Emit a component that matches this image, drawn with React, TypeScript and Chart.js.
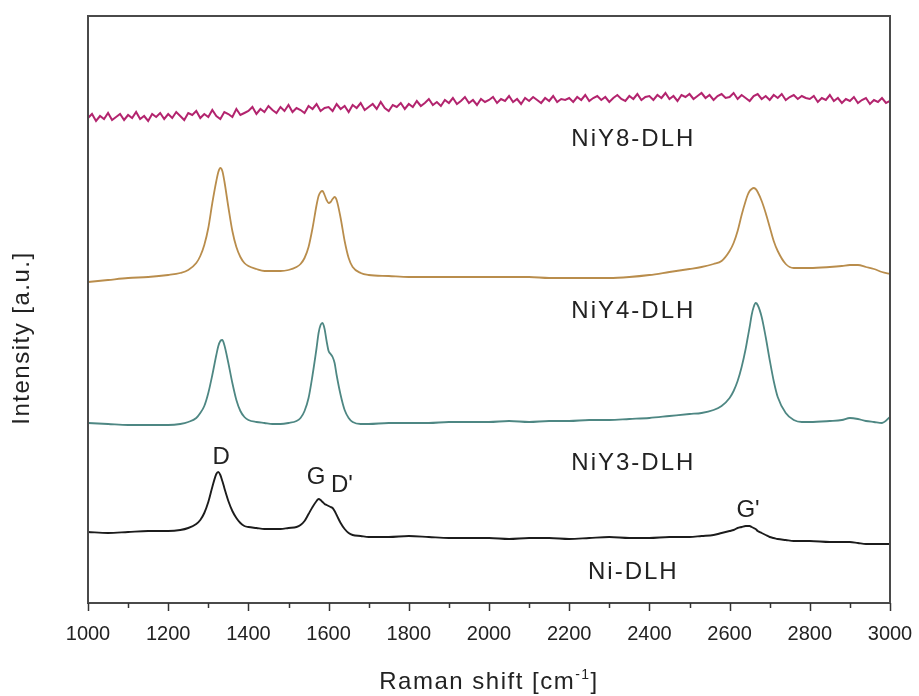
import React, { useEffect, useRef } from 'react';
import { Chart, registerables } from 'chart.js';

Chart.register(...registerables);

// Raman shift grid (cm^-1) shared by the three smooth spectra
const ramanShift = [
  1000, 1050, 1100, 1150, 1200, 1230, 1250, 1270, 1280, 1290,
  1300, 1310, 1320, 1325, 1330, 1335, 1340, 1350, 1360, 1370,
  1380, 1390, 1400, 1420, 1440, 1460, 1480, 1500, 1520, 1530,
  1540, 1550, 1560, 1570, 1575, 1580, 1585, 1590, 1595, 1600,
  1605, 1610, 1615, 1620, 1630, 1640, 1650, 1660, 1680, 1700,
  1750, 1800, 1850, 1900, 1950, 2000, 2050, 2100, 2150, 2200,
  2250, 2300, 2350, 2400, 2450, 2500, 2530, 2560, 2580, 2600,
  2610, 2620, 2630, 2640, 2645, 2650, 2655, 2660, 2665, 2670,
  2680, 2690, 2700, 2710, 2720, 2740, 2760, 2780, 2800, 2850,
  2880, 2900, 2920, 2940, 2960, 2980, 3000,
];

// Intensities (a.u., stacked offsets included)
const niDLH = [
  71, 70, 71, 72, 72, 73, 75, 79, 83, 90,
  101, 116, 129, 131, 128, 122, 115, 102, 92, 85,
  80, 77, 76, 75, 74, 74, 74, 75, 76, 78,
  82, 89, 96, 102, 104, 103, 101, 99, 98, 97,
  96, 95, 92, 88, 80, 74, 70, 68, 67, 66,
  66, 67, 66, 65, 65, 65, 64, 65, 65, 64,
  65, 66, 65, 65, 66, 66, 67, 68, 70, 72,
  73, 75, 76, 77, 77, 77, 76, 75, 74, 72,
  70, 68, 66, 65, 64, 63, 62, 62, 62, 61,
  61, 61, 60, 59, 59, 59, 59,
];

const niY3DLH = [
  180, 179, 178, 178, 178, 179, 181, 185, 190, 197,
  210, 228, 248, 257, 262, 263, 258, 240, 220, 203,
  192, 186, 183, 181, 180, 179, 179, 180, 182, 185,
  192, 205, 228, 255, 270, 278, 280, 274, 262, 252,
  249, 246, 240, 228, 208, 193, 185, 181, 179, 179,
  180, 180, 180, 181, 181, 181, 182, 181, 182, 182,
  183, 183, 184, 185, 187, 189, 190, 193, 197, 205,
  212, 222, 236, 254, 265, 276, 288, 296, 300, 298,
  286, 266, 243, 222, 206, 190, 183, 181, 181, 182,
  183, 185, 184, 182, 181, 180, 186,
];

const niY4DLH = [
  321, 323, 325, 326, 328, 330, 333, 340, 347, 358,
  375, 400, 422, 431, 435, 432, 422, 396, 372, 356,
  346, 340, 337, 334, 332, 332, 332, 333, 336, 339,
  345, 356, 375, 398, 407, 411, 412, 408, 403, 400,
  401, 404, 406, 403, 385, 362, 345, 336, 330, 328,
  327, 326, 326, 326, 326, 326, 326, 326, 325, 325,
  325, 325, 326, 328, 331, 334, 336, 339, 342, 352,
  360, 372, 388, 402, 408, 412, 414, 415, 414, 411,
  402, 390, 376, 362, 352, 339, 335, 335, 335, 336,
  337, 338, 338, 336, 334, 331, 329,
];

// Finer grid for the noisy NiY8-DLH spectrum
const ramanShiftFine = [
  1000, 1010, 1020, 1030, 1040, 1050, 1060, 1070, 1080, 1090, 1100, 1110, 1120, 1130, 1140, 1150, 1160, 1170, 1180, 1190,
  1200, 1210, 1220, 1230, 1240, 1250, 1260, 1270, 1280, 1290, 1300, 1310, 1320, 1330, 1340, 1350, 1360, 1370, 1380, 1390,
  1400, 1410, 1420, 1430, 1440, 1450, 1460, 1470, 1480, 1490, 1500, 1510, 1520, 1530, 1540, 1550, 1560, 1570, 1580, 1590,
  1600, 1610, 1620, 1630, 1640, 1650, 1660, 1670, 1680, 1690, 1700, 1710, 1720, 1730, 1740, 1750, 1760, 1770, 1780, 1790,
  1800, 1810, 1820, 1830, 1840, 1850, 1860, 1870, 1880, 1890, 1900, 1910, 1920, 1930, 1940, 1950, 1960, 1970, 1980, 1990,
  2000, 2010, 2020, 2030, 2040, 2050, 2060, 2070, 2080, 2090, 2100, 2110, 2120, 2130, 2140, 2150, 2160, 2170, 2180, 2190,
  2200, 2210, 2220, 2230, 2240, 2250, 2260, 2270, 2280, 2290, 2300, 2310, 2320, 2330, 2340, 2350, 2360, 2370, 2380, 2390,
  2400, 2410, 2420, 2430, 2440, 2450, 2460, 2470, 2480, 2490, 2500, 2510, 2520, 2530, 2540, 2550, 2560, 2570, 2580, 2590,
  2600, 2610, 2620, 2630, 2640, 2650, 2660, 2670, 2680, 2690, 2700, 2710, 2720, 2730, 2740, 2750, 2760, 2770, 2780, 2790,
  2800, 2810, 2820, 2830, 2840, 2850, 2860, 2870, 2880, 2890, 2900, 2910, 2920, 2930, 2940, 2950, 2960, 2970, 2980, 2990,
  3000,
];

const niY8DLH = [
  485, 489, 482, 487, 484, 490, 483, 486, 489, 483, 488, 485, 491, 484, 487, 482, 489, 486, 490, 484,
  489, 485, 491, 487, 483, 490, 488, 492, 485, 489, 486, 493, 487, 484, 491, 489, 486, 494, 488, 490,
  492, 496, 489, 494, 491, 497, 493, 490, 496, 492, 498, 491, 495, 493, 490, 497, 494, 499, 492, 495,
  496, 492, 499, 494, 497, 491, 498, 495, 500, 493, 496, 499, 494, 501, 495, 492, 498, 496, 500, 494,
  499, 496, 502, 497, 500, 504, 498, 501, 497, 503, 500, 505, 499, 502, 506, 500, 503, 498, 504, 501,
  503, 506, 500, 504, 502, 507, 501, 504, 499, 505, 502, 506, 503, 500, 505, 502, 507, 501, 504, 503,
  505, 501, 506, 503, 508, 502, 505, 507, 503, 506, 501, 505, 508, 504, 502, 507, 504, 509, 503, 506,
  507, 503, 508, 505, 510, 504, 507, 502, 508, 506, 509, 504, 507, 510, 505, 508, 503, 507, 509, 505,
  506, 510, 504, 508, 505, 502, 507, 509, 504, 507, 503, 508, 505, 509, 503, 506, 508, 504, 507, 505,
  504, 507, 501, 505, 503, 508, 502, 505, 500, 504, 502, 506, 500, 503, 505, 499, 503, 501, 505, 500,
  502,
];

const sampleNames = ['Ni-DLH', 'NiY3-DLH', 'NiY4-DLH', 'NiY8-DLH'];
const peakNames = ['D', 'G', "D'", "G'"];

// where the text annotations sit, in data coordinates
const sampleLabelAnchors = [
  [2360, 31], [2360, 140], [2360, 292], [2360, 464],
];
const peakLabelAnchors = [
  [1332, 146], [1569, 126], [1633, 118], [2646, 93],
];

const FONT = '"Liberation Sans", Arial, Helvetica, sans-serif';

const zip = (xs: number[], ys: number[]) => xs.map((x, i) => ({ x, y: ys[i] }));

const decor = {
  id: 'decor',
  afterDraw(chart: any) {
    const { ctx, chartArea: a, scales } = chart;
    const xs = scales.x;
    const ys = scales.y;
    ctx.save();
    // frame
    ctx.strokeStyle = '#4a4a4a';
    ctx.lineWidth = 2;
    ctx.strokeRect(a.left, a.top, a.right - a.left, a.bottom - a.top);
    // x tick marks (major every 200, minor every 100)
    ctx.lineWidth = 1.5;
    ctx.strokeStyle = '#333';
    for (const t of xs.ticks) {
      const px = Math.round(xs.getPixelForValue(t.value)) + 0.5;
      const len = t.value % 200 === 0 ? 8 : 5;
      ctx.beginPath();
      ctx.moveTo(px, a.bottom);
      ctx.lineTo(px, a.bottom + len);
      ctx.stroke();
    }
    // annotations
    ctx.fillStyle = '#222';
    ctx.textAlign = 'center';
    ctx.textBaseline = 'middle';
    ctx.font = '24px ' + FONT;
    (ctx as any).letterSpacing = '2px';
    sampleNames.forEach((name, i) => {
      const [x, y] = sampleLabelAnchors[i];
      ctx.fillText(name, xs.getPixelForValue(x), ys.getPixelForValue(y));
    });
    (ctx as any).letterSpacing = '0px';
    peakNames.forEach((name, i) => {
      const [x, y] = peakLabelAnchors[i];
      ctx.fillText(name, xs.getPixelForValue(x), ys.getPixelForValue(y));
    });
    // x axis title with superscript
    (ctx as any).letterSpacing = '1.5px';
    ctx.textAlign = 'left';
    ctx.textBaseline = 'alphabetic';
    const main = 'Raman shift [cm';
    const sup = '-1';
    const end = ']';
    ctx.font = '24px ' + FONT;
    const wMain = ctx.measureText(main).width;
    const wEnd = ctx.measureText(end).width;
    ctx.font = '14px ' + FONT;
    const wSup = ctx.measureText(sup).width;
    const total = wMain + wSup + wEnd;
    const cx = (a.left + a.right) / 2;
    const baseY = a.bottom + 86;
    let px = cx - total / 2;
    ctx.font = '24px ' + FONT;
    ctx.fillText(main, px, baseY);
    px += wMain;
    ctx.font = '14px ' + FONT;
    ctx.fillText(sup, px, baseY - 10);
    px += wSup;
    ctx.font = '24px ' + FONT;
    ctx.fillText(end, px, baseY);
    // y axis title
    ctx.textAlign = 'center';
    ctx.textBaseline = 'middle';
    ctx.translate(22, a.top + 322);
    ctx.rotate(-Math.PI / 2);
    ctx.fillText('Intensity [a.u.]', 0, 0);
    ctx.restore();
  },
};

export default function App() {
  const canvasRef = useRef<HTMLCanvasElement | null>(null);

  useEffect(() => {
    if (!canvasRef.current) return;
    const line = (label: string, xs: number[], ys: number[], color: string, smooth: boolean, width: number) => ({
      label,
      data: zip(xs, ys),
      borderColor: color,
      backgroundColor: color,
      borderWidth: width,
      pointRadius: 0,
      fill: false,
      cubicInterpolationMode: smooth ? 'monotone' : 'default',
      tension: 0,
    });
    const chart = new Chart(canvasRef.current, {
      type: 'line',
      data: {
        datasets: [
          line(sampleNames[0], ramanShift, niDLH, '#1c1c1c', true, 1.9),
          line(sampleNames[1], ramanShift, niY3DLH, '#4e8783', true, 1.8),
          line(sampleNames[2], ramanShift, niY4DLH, '#b98d4c', true, 1.8),
          line(sampleNames[3], ramanShiftFine, niY8DLH, '#b3246e', false, 2),
        ] as any,
      },
      options: {
        animation: false,
        responsive: true,
        maintainAspectRatio: false,
        layout: { padding: { top: 16, right: 29, left: 0, bottom: 0 } },
        plugins: {
          legend: { display: false },
          tooltip: { enabled: false },
        },
        scales: {
          x: {
            type: 'linear',
            min: 1000,
            max: 3000,
            grid: { display: false, drawTicks: false },
            border: { display: false },
            ticks: {
              stepSize: 100,
              autoSkip: false,
              maxRotation: 0,
              padding: 19,
              color: '#222',
              font: { family: FONT, size: 20 },
              callback: (v: any) => (Number(v) % 200 === 0 ? String(v) : ''),
            },
            afterFit: (s: any) => {
              s.height = 93;
              s.paddingLeft = 0;
              s.paddingRight = 0;
            },
          },
          y: {
            type: 'linear',
            min: 0,
            max: 587,
            grid: { display: false, drawTicks: false },
            border: { display: false },
            ticks: { display: false },
            afterFit: (s: any) => {
              s.width = 88;
              s.paddingTop = 0;
              s.paddingBottom = 0;
            },
          },
        },
      },
      plugins: [decor],
    } as any);
    return () => chart.destroy();
  }, []);

  return (
    <div style={{ position: 'fixed', left: 0, top: 0, width: 919, height: 696, background: '#fff' }}>
      <canvas ref={canvasRef} />
    </div>
  );
}
